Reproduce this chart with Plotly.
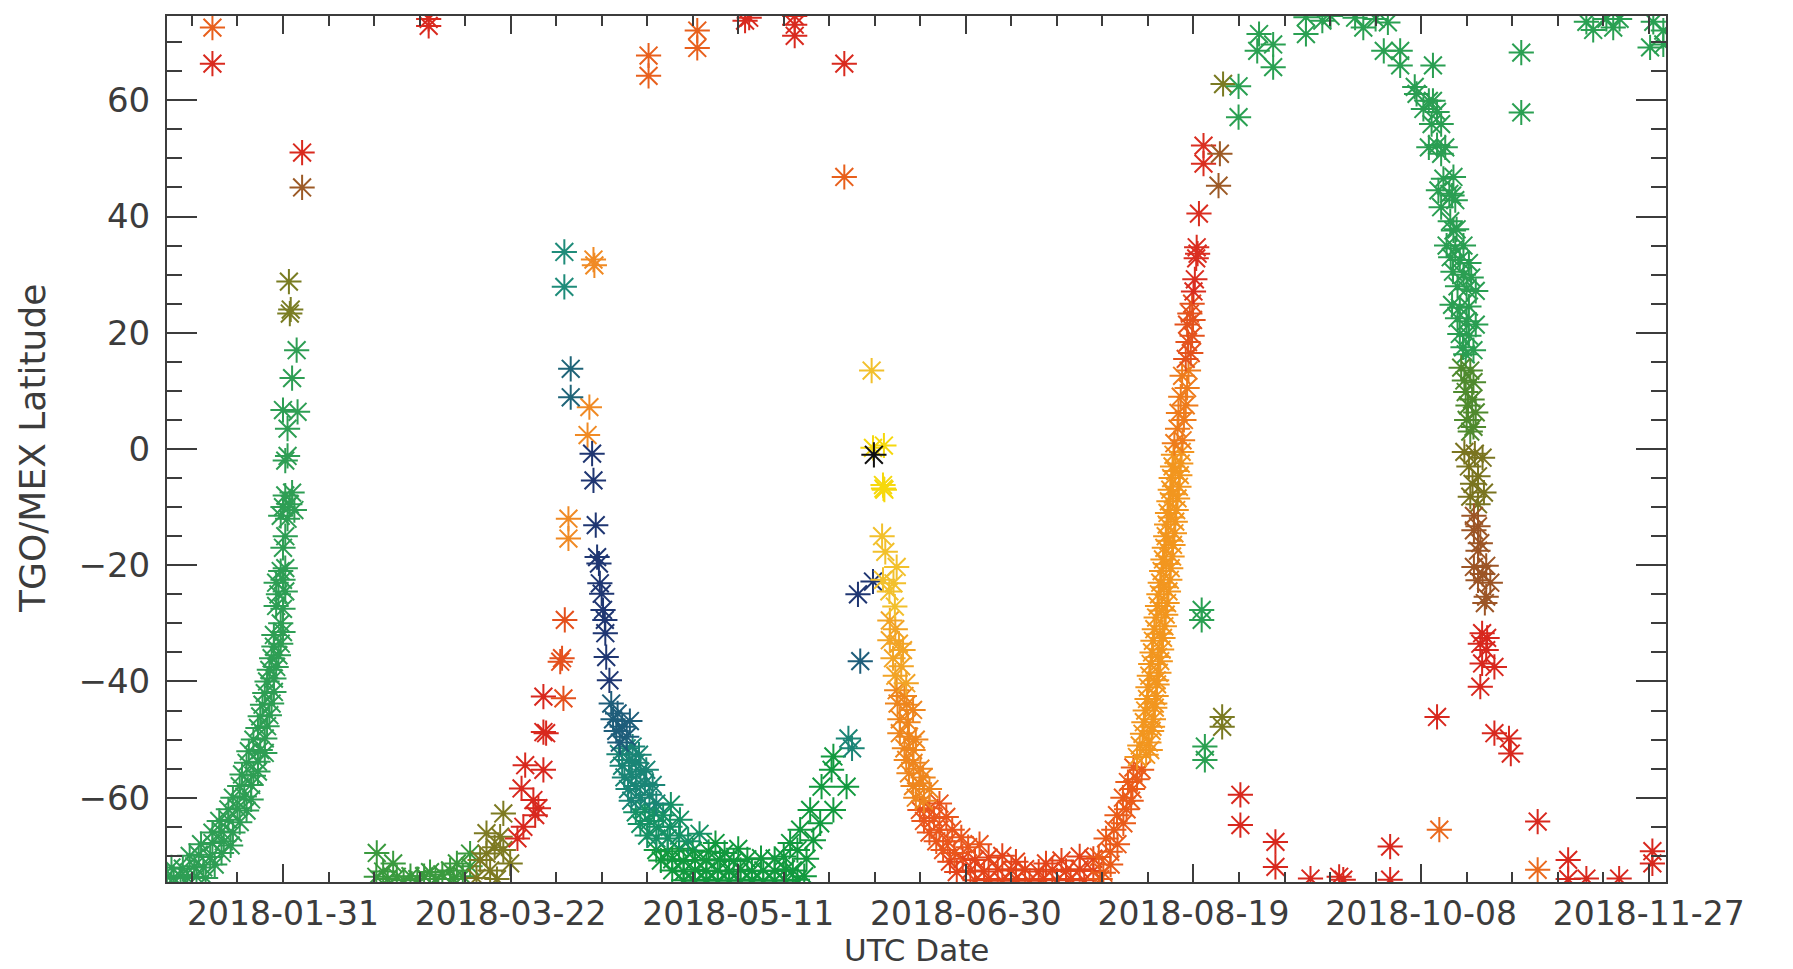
import numpy as np
import pandas as pd
import plotly.graph_objects as go

# ---------------- data: (day of year 2018, latitude in degrees) ----------------
jan_green = [(5.5,-73.6),(7,-73.8),(8.5,-73.5),(10,-73.8),(12,-73.6),(14,-73.8),
    (6.5,-72),(9,-72.2),(11.5,-71.8),(13.5,-72),(16,-71.5),
    (10.5,-70),(12.5,-69.8),(15,-70.2),(17.5,-69.5),
    (13,-68),(15.5,-67.8),(18,-67.5),(19.5,-68.2),
    (15.5,-66),(17.5,-65.8),(20,-66),(17,-64),(19,-63.8),(21.5,-64.2),
    (19,-62),(21,-61.8),(23,-62.2),(20,-60),(22.5,-59.8),(24,-60.3),
    (21.5,-58),(24,-57.8),(22,-56),(24.5,-56.2),(25.5,-55.5),
    (23,-54),(25.5,-53.8),(23.5,-52),(26,-51.8),(27,-52.3),
    (24.5,-50),(27,-49.8),(25.5,-48),(27.5,-47.7),(26,-46),(28,-45.8),
    (26.5,-44),(28.5,-43.8),(27,-42),(29,-41.8),(27.5,-40),(29,-39.5),
    (28,-38),(29.5,-37.5),(28.5,-36),(30,-35.5),(29,-34),(30.5,-33.5),
    (29,-32),(31,-31.5),(30.5,-30),(29.5,-27),(31,-27.5),(30,-25),(31.5,-24.5),
    (29.5,-23),(31,-22.5),(30.5,-21),(31.5,-20.5),(31,-17),(31.5,-15),
    (32,-12),(30.5,-11.5),(31,-10),(32.5,-9.5),(33.5,-10.5),(31.5,-8),(33,-7.5),
    (31.5,-2),(32,-1.2),(32,3.5),(31,6.7),(34.2,6.4),(33,12.2),(34,17)]
jan_olive = [(32.5,23.3),(32.7,24.0),(32.3,28.8)]

top_red = [(15.5,66.3),(35.2,51.0),(63,74.0),(63,72.8),(132.5,73.7),(133.4,74.2),
    (143.4,74.5),(143.4,73.0),(143.4,71.1),(154.3,66.3)]
top_orange = [(15.5,72.5),(111.3,67.7),(111.3,64.2),(122,72.0),(122,69.0),(154.3,46.8)]
top_brown = [(35.2,45.0)]

fm_green = [(51.5,-73.6),(51.6,-69.5),(53,-72.7),(54,-74),(55.2,-71.3),(56,-73.6),
    (57.5,-74.2),(59,-73.5),(60.5,-74),(62,-73.5),(63.3,-72.8),(64.5,-74),(66,-73.2),
    (67.7,-72.5),(68.5,-74),(69.2,-71.3),(70.5,-73.5),(72.1,-71.8),(72.1,-69.6)]
fm_olive = [(73.5,-73.8),(74.3,-70.7),(75.7,-69.6),(76.5,-72.5),(77.5,-68.5),(75.7,-66.1),
    (78.7,-66.7),(79.4,-69),(80.9,-71.3),(79.4,-62.7),(78,-74)]
fm_red = [(83.4,-58.4),(86,-60.4),(87.1,-61.8),(86.4,-63),(83.8,-65),(82.5,-67),
    (84.2,-54.4),(88.2,-55.2),(88.2,-48.7),(88.8,-48.9),(88.2,-42.6)]
fm_redorange = [(92.6,-42.9),(91.9,-36.6),(92.3,-36),(92.9,-29.4)]
fm_orange = [(93.7,-12),(93.7,-15.4),(98.3,7.2),(97.9,2.4),(99.2,32.6),(99.4,31.6)]
fm_teal = [(92.8,33.9),(92.8,27.9)]
fm_blueteal = [(94.2,13.8),(94.2,8.9)]

u2_blue = [(98.9,-0.8),(99.2,-5.4),(99.7,-13.1),(100,-18.6),(100.4,-19.7),(100.6,-23.1),
    (101,-24.9),(101.3,-27.7),(101.7,-29.4),(101.8,-31.7),(102,-35.8),(102.7,-39.8),
    (157.3,-25),(160.6,-22.8)]
u2_darkteal = [(103.1,-43.8),(103.5,-46.5),(104.5,-45.5),(104.2,-48.5),(105.5,-47.8),
    (105,-50.5),(106.5,-49.5),(107.2,-46.8),(157.8,-36.5)]
u2_teal = [(104.8,-52.5),(106.5,-51.5),(107.8,-51.2),(105.5,-54.5),(107,-53.5),(108.5,-54),
    (106,-56.5),(107.5,-56),(109.5,-55.5),(106.8,-58.5),(108.5,-58),(110.5,-57.5),
    (107.5,-60.5),(109.5,-60),(111.5,-59.5),(113,-61),(109.2,-52.6),(110.8,-55.2),
    (112.2,-57.8),(156,-51.5),(155.2,-49.8)]
u2_tealgreen = [(108.5,-62.5),(110.5,-62),(112.5,-62.5),(114.5,-63),(109.5,-64.5),(111.5,-64),
    (113.5,-65),(116,-65),(111,-66.5),(113,-67),(115.5,-67),(118,-66.5),(120,-67.5),
    (116.2,-61.2),(118.2,-63.8),(122.5,-66.2)]
u2_green = [(119,-74.2),(121.5,-74.3),(124,-74.1),(126.5,-74.3),(129,-74.2),(131.5,-74.3),
    (134,-74.1),(136.5,-74.3),(139,-74.2),(141.5,-74.3),(144,-74.1),
    (116.5,-72.5),(119,-72.7),(121.5,-72.4),(124,-72.6),(126.5,-72.5),(129,-72.7),
    (131.5,-72.4),(134,-72.6),(136.5,-72.5),(139,-72.6),(141.5,-72.3),
    (114,-70.8),(116.5,-70.6),(119,-70.9),(121.5,-70.7),(124,-70.8),(127,-70.6),
    (130,-70.9),(133,-70.6),(136,-70.4),(139,-70.5),
    (113,-69),(115.5,-69.2),(118,-68.8),(121,-69.1),(124.5,-69.3),(128,-69.5),
    (126,-67.8),(131,-68.8),
    (141,-70.1),(142.4,-67.8),(144.6,-65.5),(147.5,-67.3),(146.8,-62.1),(149,-64.4),
    (149.3,-58.1),(151.9,-62.1),(151.5,-55.2),(154.8,-58.1),(151.9,-52.9),(144,-69),
    (146,-70.5),(143,-72.5),(145.5,-73.5)]

yellow = [(160.6,0.2),(163.0,0.6),(162.8,-6.2),(163.1,-7.0),(162.9,-6.8)]
gold = [(160.3,13.5),(162.6,-15.0),(163.3,-17.7),(165.8,-20.3),(165.1,-23.1),(162.8,-22.5),
    (165.4,-27.1),(164.2,-24.5)]
black = [(160.8,-1.0)]

ou_left_a = [(164.3,-29.5),(165.5,-31),(164.3,-32.9),(166.3,-33.5),(167.2,-34.6),(165,-36),
    (166.8,-37.4),(165.5,-39),(167.9,-40.3)]
ou_left_b = [(165.8,-41.5),(167.5,-42.5),(166,-43.8),(168,-44),(169.4,-44.9),(166.5,-46.5),
    (168.3,-47),(166.5,-48.9),(168.5,-49.5),(170,-50),(167.5,-51.5),(169.4,-51.8),
    (167.9,-53.5),(169.5,-54),(171,-55),(168.5,-55.8),(171.6,-56.5),(169.4,-58),
    (170.8,-57.5),(173,-58.5),(170,-60),(171.8,-60.5)]
ou_left_c = [(170.9,-62.1),(173,-61.8),(175.2,-61),(171.8,-64),(174,-63.5),(176.7,-63.3),
    (173,-66),(175.2,-65.5),(178,-65.5),(174.5,-67.5),(177,-67.5),(180,-66.8),(176,-69),
    (178.5,-69.5),(181.5,-68.5),(184,-68)]
ou_bottom = [(177.5,-71),(180.3,-70.5),(183,-70.7),(186,-70.3),(189,-70),(179,-72.8),
    (182,-72.5),(185,-72.7),(188,-72.3),(191,-72.5),(194,-72.3),(183,-74.2),(186,-74),
    (189,-74.3),(192,-74),(195,-74.3),(198,-74),(201,-74.2),(204,-74),(207,-74.2),
    (197,-72.7),(200,-72.4),(203,-72.6),(206,-72.3),(209,-72.6),(192,-71),(198.6,-71.3),
    (202,-70.8),(206,-70.1),(209,-70.5)]
ou_right_low = [(210.5,-74.0),(211.2,-72.9),(212.8,-71.5),(210.2,-70.2),(212.7,-69.3),
    (214.3,-68.0),(211.8,-67.0),(213.5,-65.5),(215.6,-64.4),(214.2,-63.0),(216.3,-62.0),
    (217.3,-60.5),(215.5,-60.0),(217.6,-58.5),(216.6,-57.3),(218.6,-56.8),(219.6,-55.2),
    (217.8,-54.8)]
ou_right_mid = [(218.6,-53.0),(220.6,-52.6),(219.2,-51.0),(221.2,-50.5),(219.8,-49.0),
    (221.8,-48.5),(220.1,-47.0),(222.2,-46.5),(220.4,-45.0),(222.5,-44.5),(220.8,-43.0),
    (222.8,-42.5),(221.0,-41.0),(223.0,-40.5),(221.3,-39.0),(223.4,-38.5),(221.6,-37.0),
    (223.7,-36.5),(221.9,-35.0),(224.0,-34.5),(222.1,-33.0),(224.3,-32.5),(222.4,-31.0),
    (224.6,-30.5),(222.8,-29.0),(224.9,-28.5),(223.1,-27.0),(225.2,-26.5),(223.4,-25.0),
    (225.5,-24.5),(223.7,-23.0),(225.8,-22.5),(224.0,-21.0),(226.0,-20.5),(224.3,-19.0),
    (226.3,-18.5),(224.6,-17.0),(226.5,-16.5),(224.9,-15.0),(226.8,-14.5),(225.1,-13.0),
    (227.0,-12.5),(225.3,-11.0),(227.2,-10.5),(225.6,-9.0),(227.5,-8.5),(225.9,-7.0),
    (227.8,-6.5),(226.1,-5.0),(228.0,-4.5),(226.4,-3.0),(228.2,-2.5),(226.6,-1.0),
    (228.4,-0.5),(221.5,-51.8),(222.0,-47.8),(222.5,-43.8),(222.9,-39.8),(223.2,-35.8),
    (223.6,-31.8),(224.0,-27.8),(224.5,-23.8),(225.0,-19.8),(225.5,-15.8),(226.0,-11.8),
    (226.5,-7.8),(227.0,-3.8)]
ou_right_up = [(226.8,1.0),(228.6,1.5),(227.5,3.5),(228.9,5.0),(227.7,6.2),(229.3,7.5),
    (228.2,9.0),(229.6,10.5),(228.5,12.6),(229.9,13.5)]
ou_right_red1 = [(229.3,15.5),(230.4,16.5),(229.8,18.4),(230.7,19.5),(229.6,21.4),
    (230.9,22.2),(230.2,23.3),(230.7,25.0)]
ou_right_red2 = [(231.0,27.1),(231.3,29.2),(231.6,32.8),(231.7,34.7),(231.9,33.6),
    (232.2,40.5),(233.2,49.1),(233.2,52.2)]
aug_brown = [(236.8,50.8),(236.5,45.3)]
aug_olive = [(237.5,62.8),(237.3,-46.1),(237.3,-47.8)]

late_green = [(240.9,62.4),(240.9,57.1),(232.8,-27.7),(232.8,-29.4),(233.5,-51.2),(233.5,-53.5),
    (245.4,71.4),(248.5,69.6),(245,68.5),(248.5,65.7),(255.7,74.3),(255.7,71.4),(259.3,73.7),
    (261.1,74.5),(266.5,74.2),(268.3,72.5),(271,74),(273.7,73.4),(272.8,68.5),(276.4,68.5),
    (276.4,66),(303,68.2),(303,57.9),(317.3,73.5),(318.8,72.1),(321.7,74),(323.2,72.5),
    (324.6,74),(332,73.5),(334.2,72),(331.3,69.1),(334.2,69.6)]
oct_green = [(279.6,62.3),(280,61.1),(282.7,59.9),(283.6,59.9),(283.6,66),(281.5,58.5),
    (284.5,58),(283.3,55.9),(285.4,55.9),(282.7,51.9),(284.5,52.3),(286.3,51.9),(285.4,50.8),
    (285.9,46.5),(288.1,46.8),(284.8,44.5),(287.2,43.9),(287.8,43.6),(288.5,42.8),(285.4,41.6),
    (287.4,39.2),(288.1,37.6),(288.8,37.8),(286.6,35),(288.5,34.5),(290.3,35),(287.5,33),
    (289.5,32.5),(291.5,32),(288,30.5),(290.3,30),(292,29.5),(289,28),(291,27.5),(293,27.2),
    (287.8,24.8),(289.5,24.3),(291.5,24.5),(289,22.5),(291,22),(293,21.4),(289.5,19.8),
    (291.5,19.5),(290.2,17.5),(292.5,17),(290.8,16.3)]
oct_olivegreen = [(289.8,14),(291.8,13.5),(290.5,11.8),(292.5,11.5),(290.8,9.8),(292.2,8.5),
    (291.3,7.5),(293,6.3),(291,5),(292.5,3.8),(291.8,3)]
oct_olive = [(290.5,-0.5),(292.8,-0.8),(294.5,-1.5),(291.5,-3),(293.5,-4.7),(292.3,-6),
    (294.8,-7.5),(291.8,-8.2),(293.5,-9.5)]
oct_brown = [(292.6,-11.5),(293.5,-13.3),(292.6,-14),(294,-16.2),(293.5,-17.5),(292.6,-20.3),
    (295.3,-20.1),(294.5,-21.5),(293.5,-22.6),(296.2,-23),(295.3,-25.4),(295,-26.5)]
oct_red = [(294.4,-31.7),(295.5,-32.5),(294,-33.5),(295.3,-34.6),(294.4,-36.9),(297.1,-37.5),
    (294,-40.9),(284.5,-46.1),(297.1,-48.9),(300.3,-49.8),(300.7,-52.4)]
late_red = [(241.3,-59.5),(241.3,-64.7),(249,-67.6),(249,-71.9),(256.7,-73.9),(263,-73.6),
    (263.9,-74.1),(274.2,-68.4),(274.2,-74.1),(306.6,-64.1),(313.3,-70.7),(313.3,-74),
    (317.3,-73.9),(324.5,-73.9),(331.8,-69.2),(331.8,-71.3)]
late_orange = [(285,-65.5),(306.6,-72.4)]

x_tick_labels = ["2018-01-31", "2018-03-22", "2018-05-11", "2018-06-30",
                 "2018-08-19", "2018-10-08", "2018-11-27"]
x_range = ["2018-01-05 12:30", "2018-11-30 19:00"]
y_range = [-74.5, 74.5]

# ---------------- styling ----------------
series = [
    (jan_green, "#2e9e54"), (jan_olive, "#7a7d24"),
    (top_red, "#d92a1f"), (top_orange, "#e8601c"), (top_brown, "#9c5a26"),
    (fm_green, "#3a9a3e"), (fm_olive, "#7d7a22"), (fm_red, "#d8281e"),
    (fm_redorange, "#e4501c"), (fm_orange, "#f08a24"), (fm_teal, "#1f8c7a"),
    (fm_blueteal, "#1f6478"),
    (u2_green, "#12993e"), (u2_tealgreen, "#169266"), (u2_teal, "#1a8576"),
    (u2_darkteal, "#1e5d7a"), (u2_blue, "#1f3672"),
    (ou_bottom, "#e4441a"), (ou_left_c, "#ea561c"), (ou_left_b, "#ee861e"),
    (ou_left_a, "#f2a426"), (ou_right_low, "#ea5c1a"), (ou_right_mid, "#f2961f"),
    (ou_right_up, "#ee7c1c"), (ou_right_red1, "#e4521c"), (ou_right_red2, "#da2e20"),
    (gold, "#f2c02c"), (yellow, "#f6d80c"), (black, "#101010"),
    (aug_brown, "#9c5a26"), (aug_olive, "#7a7a22"),
    (late_green, "#2aa052"), (oct_green, "#2a9e52"), (oct_olivegreen, "#4f8a2e"),
    (oct_olive, "#7a7420"), (oct_brown, "#9c5526"), (oct_red, "#d8281e"),
    (late_red, "#d8281e"), (late_orange, "#ea6a1e"),
]


def to_dates(doy):
    return pd.Timestamp("2018-01-01") + pd.to_timedelta(np.asarray(doy, float) - 1.0, unit="D")


fig = go.Figure()
for pts, col in series:
    d, la = zip(*pts)
    fig.add_trace(go.Scatter(
        x=to_dates(d), y=list(la), mode="markers", showlegend=False, hoverinfo="skip",
        marker=dict(symbol="asterisk-open", size=21, color=col,
                    line=dict(color=col, width=2))))

AX = "#3c3c3c"
DAY = 86400000
fig.update_layout(
    width=1793, height=969,
    margin=dict(l=167, r=127, t=16, b=87, autoexpand=False),
    paper_bgcolor="white", plot_bgcolor="white",
    font=dict(family="DejaVu Sans", size=33, color=AX),
    showlegend=False,
)
fig.update_xaxes(
    type="date", range=x_range, tickmode="linear", tick0=x_tick_labels[0], dtick=50 * DAY,
    tickformat="%Y-%m-%d", ticks="inside", ticklen=18, tickwidth=2, tickcolor=AX,
    showline=True, linecolor=AX, linewidth=2, mirror="ticks", showgrid=False, zeroline=False,
    ticklabelstandoff=1, automargin=False,
    minor=dict(tick0=x_tick_labels[0], dtick=10 * DAY, ticks="inside", ticklen=10,
               tickwidth=2, tickcolor=AX, showgrid=False),
)
fig.update_yaxes(
    range=y_range, tickmode="linear", tick0=0, dtick=20,
    ticks="inside", ticklen=30, tickwidth=2, tickcolor=AX,
    showline=True, linecolor=AX, linewidth=2, mirror="ticks", showgrid=False, zeroline=False,
    ticklabelstandoff=8, automargin=False, tickfont=dict(size=34),
    minor=dict(tick0=0, dtick=5, ticks="inside", ticklen=15, tickwidth=2, tickcolor=AX,
               showgrid=False),
)
fig.add_annotation(text="UTC Date", xref="paper", yref="paper", x=0.5, y=0,
                   xanchor="center", yanchor="bottom", yshift=-87, borderpad=0,
                   showarrow=False, font=dict(family="DejaVu Sans", size=31, color=AX))
fig.add_annotation(text="TGO/MEX Latitude", xref="paper", yref="paper", x=0, y=0.5,
                   xanchor="center", yanchor="middle", xshift=-135, textangle=-90,
                   showarrow=False, font=dict(family="DejaVu Sans", size=36, color=AX))

fig.write_html("out.html")
